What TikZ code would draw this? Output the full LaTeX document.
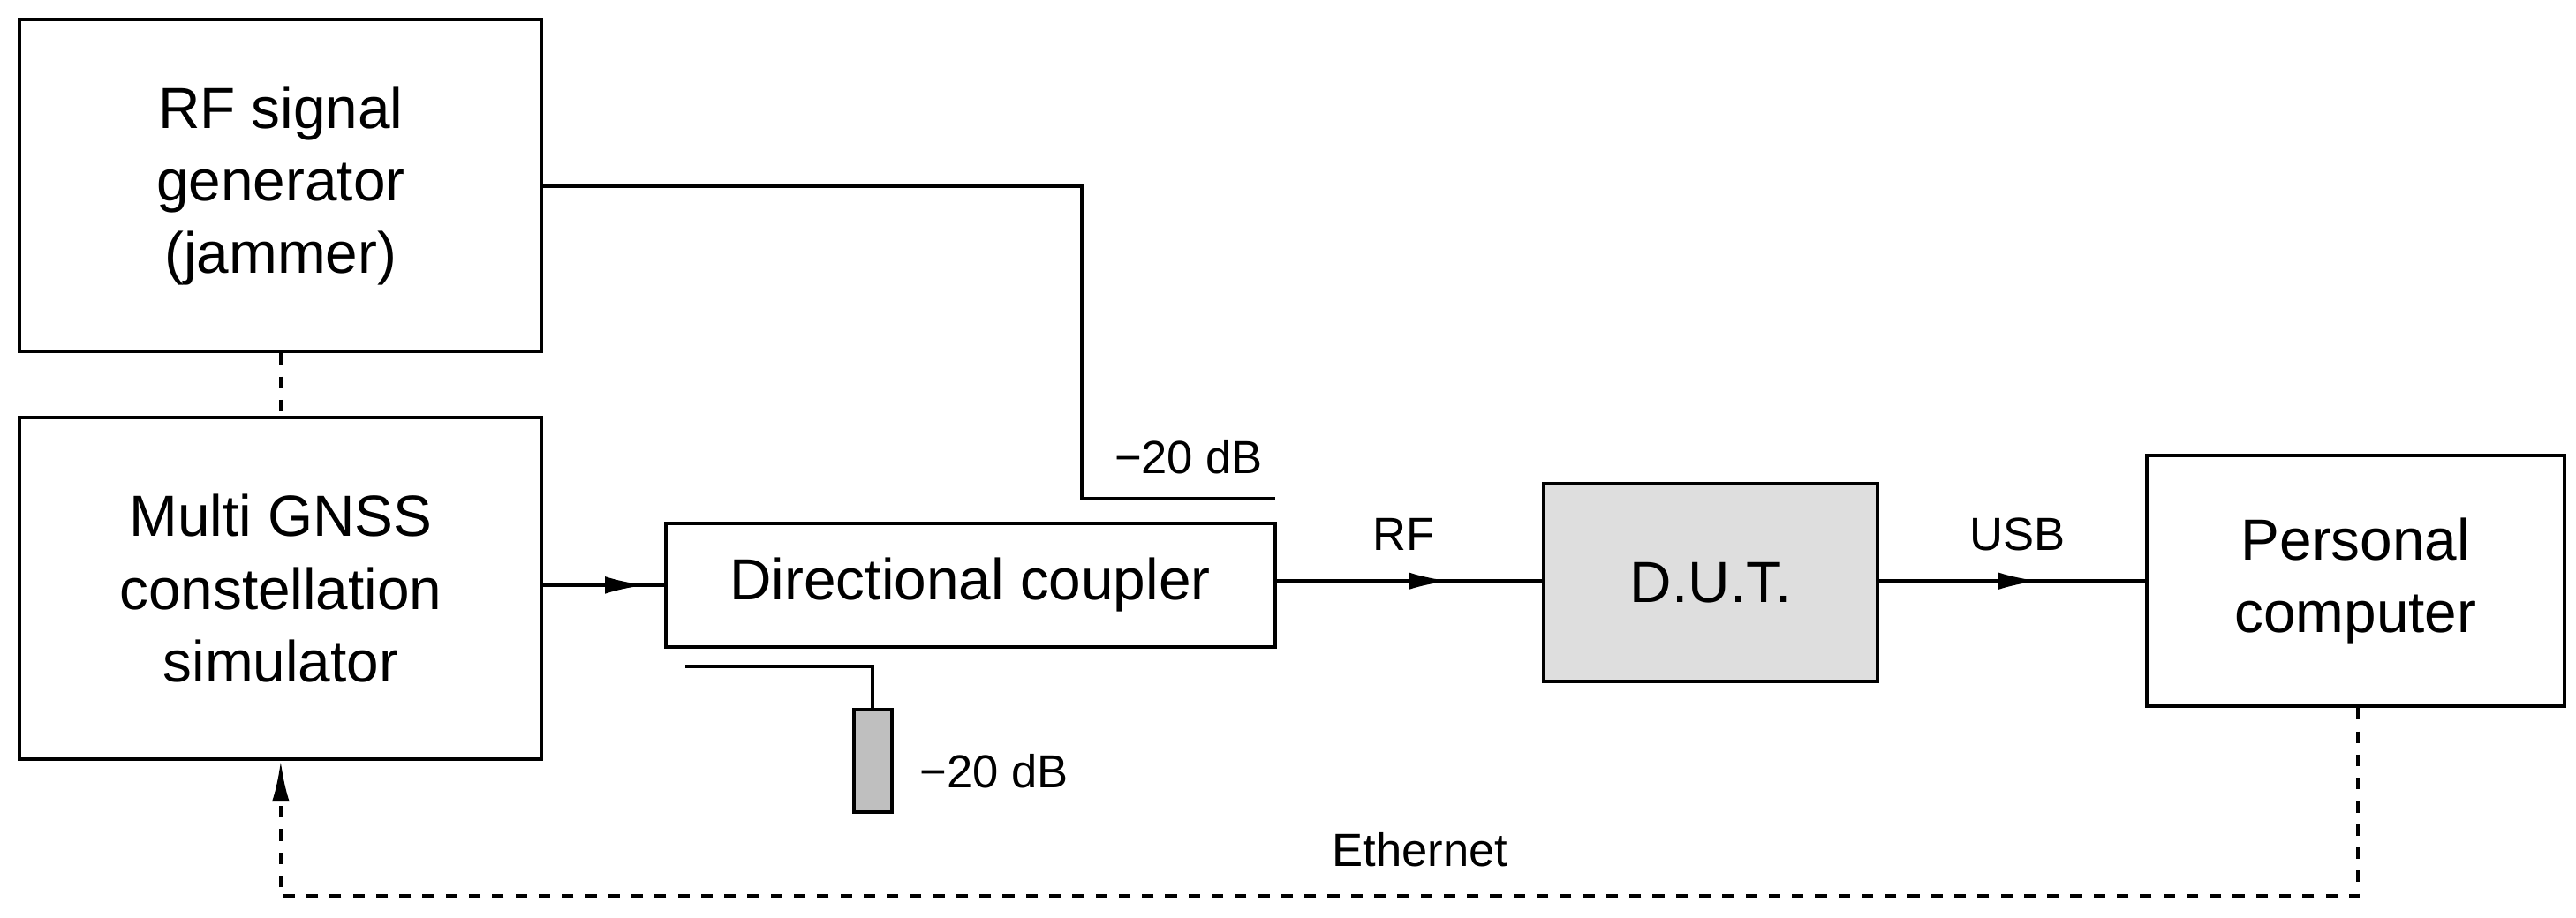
\documentclass[tikz,border=0pt]{standalone}
\usepackage{fontspec}
\setmainfont{Liberation Sans}
\usetikzlibrary{arrows.meta,decorations.markings}
\begin{document}
\begin{tikzpicture}[x=0.02cm,y=-0.02cm,line width=1.2pt,
  box/.style={draw,line width=1.2pt,align=center,font=\fontsize{20}{25}\selectfont,inner sep=0pt},
  lbl/.style={font=\fontsize{16}{19}\selectfont},
  mid/.style={postaction={decorate},decoration={markings,mark=at position #1 with {\arrow{Latex[length=14pt,width=6pt]}}}},
  dsh/.style={dash pattern=on 4pt off 4pt}]
\useasboundingbox (0,0) rectangle (1560,556);
\node[box,minimum width=316*0.02cm,minimum height=201*0.02cm] (gen) at (170,112.5) {RF signal\\generator\\(jammer)};
\node[box,minimum width=316*0.02cm,minimum height=207*0.02cm] (sim) at (170,356.5) {Multi GNSS\\constellation\\simulator};
\node[box,minimum width=369*0.02cm,minimum height=75*0.02cm] (dc) at (587.5,354.5) {Directional coupler};
\node[box,fill=black!13,minimum width=202*0.02cm,minimum height=120*0.02cm] (dut) at (1036,353) {D.U.T.};
\node[box,minimum width=253*0.02cm,minimum height=152*0.02cm] (pc) at (1426.5,352) {Personal\\computer};
\node[draw,fill=black!25,line width=1.2pt,minimum width=23*0.02cm,minimum height=62*0.02cm,inner sep=0pt] (load) at (528.5,461) {};
\coordinate (jt) at (655,302);
\coordinate (je) at (772,302);
\coordinate (ct) at (415,404);
\coordinate (eb) at (170,543);
\coordinate (ep) at (1428,543);
% connections
\draw[dsh] (gen.south) -- (sim.north);
\draw (gen.east |- 0,113) -| (jt) -- (je);
\node[lbl,anchor=south west] (db1) at (668,294) {−20 dB};
\draw[mid=0.85] (sim.east |- dc.west) -- (dc.west);
\draw (ct) -| (load.north);
\node[lbl,anchor=west] (db2) at (550,467) {−20 dB};
\draw[mid=0.65] (dc.east |- 0,352) -- (dut.west |- 0,352);
\node[lbl] (rf) at (850,324) {RF};
\draw[mid=0.6] (dut.east |- 0,352) -- (pc.west |- 0,352);
\node[lbl] (usb) at (1222,324) {USB};
\draw[dsh,-{Latex[length=14pt,width=6pt]}] (pc.south -| ep) -- (ep) -- (eb) -- (sim.south);
\node[lbl] (eth) at (860,515) {Ethernet};
\end{tikzpicture}
\end{document}
